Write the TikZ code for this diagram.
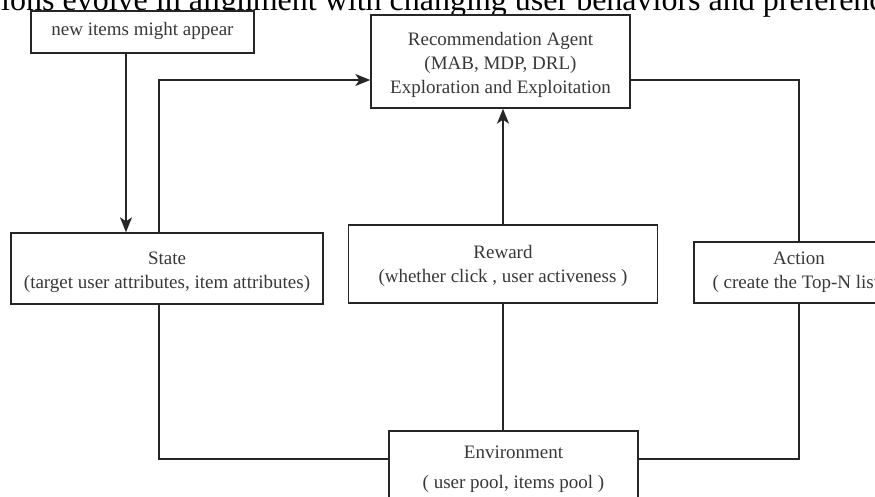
\documentclass[tikz,border=0pt]{standalone}
\usepackage{fontspec}
\setmainfont{Liberation Serif}
\usetikzlibrary{arrows.meta}
\begin{document}
\begin{tikzpicture}[x=1pt,y=-1pt,
  box/.style={draw=black!85, line width=1.4pt, fill=white, inner sep=0pt},
  txt/.style={inner sep=0pt, align=center, text=black!78,
    font=\fontsize{19}{24}\selectfont},
  link/.style={draw=black!85, line width=1.4pt},
  arr/.style={link, -{Stealth[length=15pt,width=12pt,inset=4pt]}}]
  \useasboundingbox (0,0) rectangle (875,497);
  \clip (0,0) rectangle (875,497);

  % caption line running along the top edge
  \node[anchor=base west, inner sep=0pt, font=\fontsize{32}{36}\selectfont]
    (caption) at (1,10.5) {ions evolve in alignment with changing user behaviors and preferences};

  % boxes
  \node[box, minimum width=223pt, minimum height=42pt] (newitems) at (142.5,32) {};
  \node[box, minimum width=259pt, minimum height=93pt] (agent) at (500.5,61.5) {};
  \node[box, minimum width=312pt, minimum height=71pt] (state) at (167,268.5) {};
  \node[box, minimum width=309pt, minimum height=78pt] (reward) at (503,264) {};
  \node[box, minimum width=210pt, minimum height=61pt] (action) at (799,272.5) {};
  \node[box, minimum width=249pt, minimum height=72pt] (env) at (513.5,467) {};

  % box texts
  \node[txt] (newitems-t) at ([yshift=1pt]newitems.center) {new items might appear};
  \node[txt] (agent-t) at ([yshift=-3pt]agent.center)
    {Recommendation Agent\\(MAB, MDP, DRL)\\Exploration and Exploitation};
  \node[txt] (state-t) at ([yshift=-4pt]state.center)
    {State\\(target user attributes, item attributes)};
  \node[txt] (reward-t) at ([yshift=-1.5pt]reward.center)
    {Reward\\(whether click , user activeness )};
  \node[txt] (action-t) at (action.center)
    {Action\\( create the Top-N list)};
  \node[txt, font=\fontsize{19}{30}\selectfont] (env-t) at ([yshift=-2pt]env.center)
    {Environment\\( user pool, items pool )};

  % connectors
  \draw[arr] ([xshift=-16.5pt]newitems.south) -- ([xshift=-16.5pt]newitems.south |- state.north);
  \draw[arr] ([xshift=-8pt]state.north) |- ([yshift=-18.5pt]agent.west);
  \draw[link] ([yshift=-18.5pt]agent.east) -| (action.north);
  \draw[arr] (reward.north) -- (reward.north |- agent.south);
  \draw[link] (reward.south) -- (reward.south |- env.north);
  \draw[link] ([xshift=-8pt]state.south) |- ([yshift=8pt]env.west);
  \draw[link] (action.south) |- ([yshift=8pt]env.east);
\end{tikzpicture}
\end{document}
